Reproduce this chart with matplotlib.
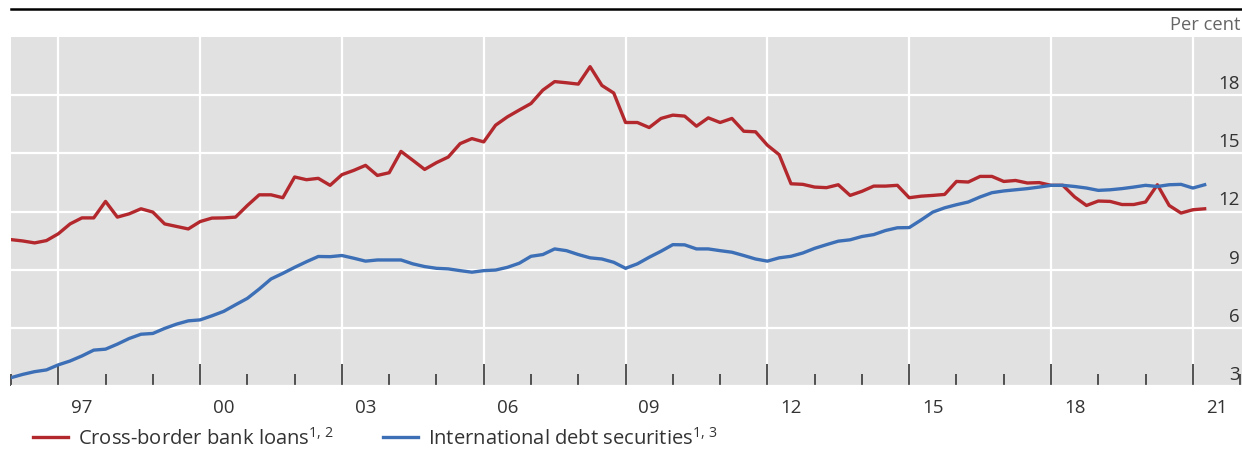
import numpy as np
import pandas as pd
import matplotlib
matplotlib.use("Agg")
import matplotlib.pyplot as plt
import matplotlib.transforms as mtrans
from matplotlib.lines import Line2D

# ---- data (quarterly, per cent) ----
quarters = pd.period_range("1996Q1", "2021Q2", freq="Q")

bank_loans = [
    10.55, 10.48, 10.38, 10.50, 10.85, 11.36, 11.67, 11.67, 12.52, 11.71,
    11.88, 12.14, 11.97, 11.36, 11.23, 11.10, 11.48, 11.66, 11.67, 11.71,
    12.31, 12.86, 12.86, 12.71, 13.78, 13.64, 13.71, 13.35, 13.90, 14.12,
    14.38, 13.86, 14.00, 15.10, 14.64, 14.17, 14.52, 14.81, 15.50, 15.76,
    15.59, 16.45, 16.88, 17.23, 17.57, 18.26, 18.70, 18.64, 18.57, 19.47,
    18.50, 18.11, 16.59, 16.59, 16.33, 16.80, 16.97, 16.92, 16.40, 16.83,
    16.59, 16.80, 16.14, 16.11, 15.42, 14.93, 13.43, 13.40, 13.26, 13.23,
    13.38, 12.83, 13.04, 13.31, 13.31, 13.35, 12.71, 12.79, 12.83, 12.88,
    13.55, 13.52, 13.81, 13.81, 13.55, 13.60, 13.47, 13.49, 13.35, 13.35,
    12.75, 12.31, 12.54, 12.52, 12.36, 12.36, 12.49, 13.38, 12.31, 11.92,
    12.09, 12.14,
]

debt_securities = [
    3.43, 3.60, 3.74, 3.83, 4.09, 4.29, 4.55, 4.85, 4.90, 5.16,
    5.45, 5.67, 5.71, 5.97, 6.19, 6.36, 6.41, 6.62, 6.85, 7.19,
    7.52, 8.00, 8.52, 8.81, 9.12, 9.41, 9.68, 9.67, 9.73, 9.59,
    9.44, 9.50, 9.50, 9.50, 9.30, 9.16, 9.07, 9.04, 8.95, 8.87,
    8.95, 8.98, 9.12, 9.33, 9.69, 9.78, 10.07, 9.98, 9.78, 9.61,
    9.55, 9.38, 9.07, 9.30, 9.64, 9.95, 10.29, 10.28, 10.07, 10.07,
    9.98, 9.90, 9.73, 9.55, 9.44, 9.61, 9.69, 9.86, 10.10, 10.29,
    10.47, 10.54, 10.71, 10.81, 11.02, 11.16, 11.17, 11.56, 11.97, 12.19,
    12.35, 12.49, 12.75, 12.97, 13.06, 13.12, 13.18, 13.26, 13.35, 13.35,
    13.29, 13.21, 13.09, 13.12, 13.18, 13.26, 13.35, 13.29, 13.38, 13.40,
    13.21, 13.38,
]

label_years = [1997, 2000, 2003, 2006, 2009, 2012, 2015, 2018, 2021]
year_labels = ["97", "00", "03", "06", "09", "12", "15", "18", "21"]
minor_years = [y for y in range(1996, 2023) if y not in label_years]
y_ticks = [3, 6, 9, 12, 15, 18]
series_labels = ["Cross-border bank loans$^{1,\\,2}$",
                 "International debt securities$^{1,\\,3}$"]

RED = "#b3282d"
BLUE = "#3c6fb6"
TXT = "#333333"
TICK_FS = 13.5
LEG_FS = 14.5

plt.rcParams["font.family"] = ["Open Sans", "DejaVu Sans"]
plt.rcParams["mathtext.fontset"] = "custom"
plt.rcParams["mathtext.rm"] = "Open Sans"
plt.rcParams["mathtext.it"] = "Open Sans"
plt.rcParams["mathtext.bf"] = "Open Sans"

W, H = 1242, 452
fig = plt.figure(figsize=(W / 100, H / 100), dpi=100)
ax = fig.add_axes([11 / W, 1 - 387 / H, 1 - 11 / W, (387 - 38) / H])
ax.set_facecolor("#e1e1e1")

xq = quarters.year + (quarters.quarter - 1) / 4.0
ax.plot(xq, bank_loans, color=RED, lw=2.4, solid_joinstyle="round", zorder=3)
ax.plot(xq, debt_securities, color=BLUE, lw=2.4, solid_joinstyle="round", zorder=3)

ax.set_xlim(1996.03, 2022.04)
ax.set_ylim(3, 21)
for s in ax.spines.values():
    s.set_visible(False)

ax.set_xticks(label_years)
ax.set_xticks(minor_years, minor=True)
ax.tick_params(axis="x", which="major", direction="in", length=15.5, width=1.3,
               color="#444444", labelbottom=False)
ax.tick_params(axis="x", which="minor", direction="in", length=8.5, width=1.3,
               color="#444444")
ax.grid(axis="x", which="major", color="white", lw=1.6)

ax.set_yticks(y_ticks)
ax.grid(axis="y", which="major", color="white", lw=1.6)
ax.set_axisbelow(True)
ax.yaxis.tick_right()
ax.tick_params(axis="y", length=0, pad=0, labelsize=TICK_FS, labelcolor=TXT)
offset = mtrans.ScaledTranslation(-2 / 100, 14 / 100, fig.dpi_scale_trans)
for lab in ax.yaxis.get_majorticklabels():
    lab.set_horizontalalignment("right")
    lab.set_transform(lab.get_transform() + offset)

sec = ax.secondary_xaxis("bottom")
sec.set_xticks([y + 0.5 for y in label_years], year_labels)
sec.tick_params(length=0, pad=8.5, labelsize=TICK_FS, labelcolor=TXT)
for s in sec.spines.values():
    s.set_visible(False)

handles = [Line2D([], [], color=RED, lw=2.4), Line2D([], [], color=BLUE, lw=2.4)]
leg = fig.legend(handles, series_labels, loc="center left",
                 bbox_to_anchor=(33 / W, 1 - 439 / H), ncol=2, frameon=False,
                 fontsize=LEG_FS, handlelength=1.74, handletextpad=0.5,
                 columnspacing=2.4, borderpad=0, borderaxespad=0)
for t in leg.get_texts():
    t.set_color(TXT)

fig.add_artist(Line2D([11 / W, 1.0], [1 - 10 / H, 1 - 10 / H], color="black",
                      lw=1.8, transform=fig.transFigure))
fig.text(1240 / W, 1 - 25 / H, "Per cent", ha="right", va="center",
         fontsize=13.2, color="#666666")

fig.savefig("out.png", dpi=100)
